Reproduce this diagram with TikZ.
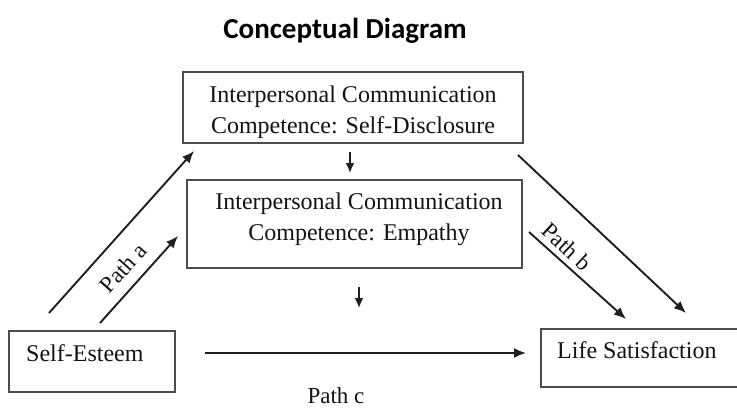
\documentclass[tikz,border=0pt]{standalone}
\usepackage{fontspec}
\setmainfont{Liberation Serif}
\newfontfamily\titlefont{Carlito}
\usetikzlibrary{arrows.meta}
\begin{document}
\begin{tikzpicture}[x=1pt,y=-1pt,
  box/.style={draw=black!70,line width=1.6pt,inner sep=0pt},
  txt/.style={font=\fontsize{24}{31}\selectfont,text=black!92,inner sep=0pt},
  arr/.style={draw=black!88,line width=1.9pt,-{Latex[length=12pt,width=10pt]}},
  plabel/.style={font=\fontsize{23}{28}\selectfont,text=black!92,inner sep=0pt}]
\useasboundingbox (0,0) rectangle (737,408);
\fill[white] (0,0) rectangle (737,408);
% title
\node[font=\titlefont\bfseries\fontsize{29}{34}\selectfont,inner sep=0pt] (title) at (345,31) {Conceptual Diagram};
% boxes
\node[box,minimum width=340pt,minimum height=71pt] (sd) at (353,107.5) {};
\node[txt,align=center] (sdt) at (353,112) {Interpersonal Communication\\Competence: Self-Disclosure};
\node[box,minimum width=335pt,minimum height=88pt] (em) at (354.5,224) {};
\node[txt,align=center] (emt) at (359,219) {Interpersonal Communication\\Competence: Empathy};
\node[box,minimum width=166pt,minimum height=61pt] (se) at (92,361.5) {};
\node[txt,anchor=west] (set) at (26,353) {Self-Esteem};
\node[box,minimum width=210pt,minimum height=58pt] (ls) at (646,358) {};
\node[txt,anchor=west] (lst) at (557,350) {Life Satisfaction};
% connector end points
\coordinate (a1s) at (49,313);  \coordinate (a1e) at (194,151);
\coordinate (a2s) at (100,323); \coordinate (a2e) at (178,236);
\coordinate (b1s) at (518,155); \coordinate (b1e) at (686,313);
\coordinate (b2s) at (529,232); \coordinate (b2e) at (626,319);
\coordinate (cs) at (205,353);  \coordinate (ce) at (526,353);
\coordinate (v1s) at (350,152); \coordinate (v1e) at (350,173);
\coordinate (v2s) at (359,287); \coordinate (v2e) at (359,308);
\draw[arr] (a1s) -- (a1e);
\draw[arr] (a2s) -- (a2e);
\draw[arr] (b1s) -- (b1e);
\draw[arr] (b2s) -- (b2e);
\draw[arr] (cs) -- (ce);
\draw[arr,-{Latex[length=10pt,width=9pt]}] (v1s) -- (v1e);
\draw[arr,-{Latex[length=10pt,width=9pt]}] (v2s) -- (v2e);
% labels
\node[plabel,rotate=48] (pa) at (123,268) {Path a};
\node[plabel,rotate=-43] (pb) at (567,247) {Path b};
\node[plabel] (pc) at (336,396) {Path c};
\end{tikzpicture}
\end{document}
